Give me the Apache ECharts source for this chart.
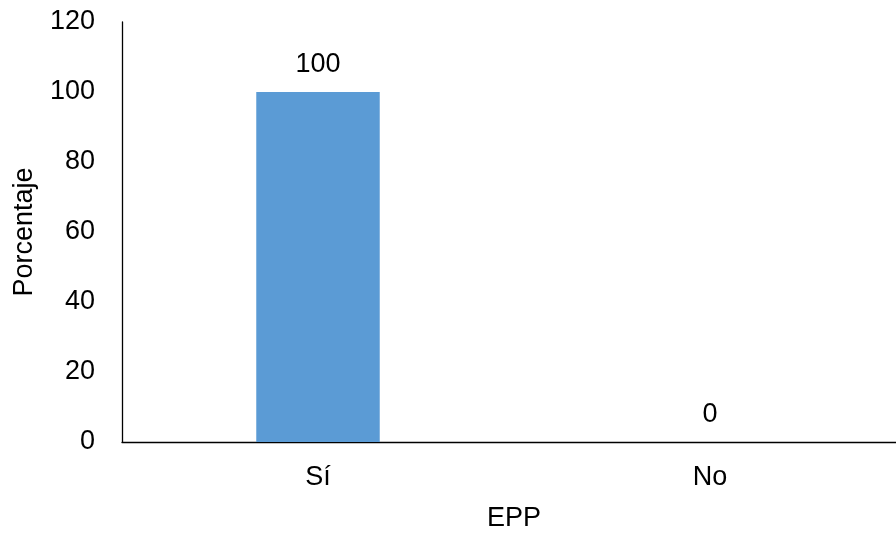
<!DOCTYPE html>
<html><head><meta charset="utf-8">
<script src="https://cdn.jsdelivr.net/npm/echarts@6/dist/echarts.min.js"></script>
<style>html,body{margin:0;padding:0;background:#fff;overflow:hidden}#c{width:906px;height:537px}</style>
</head><body><div id="c"></div>
<script>
const categories = ['Sí', 'No'];
const values = [100, 0];
const yTicks = [0, 20, 40, 60, 80, 100, 120];

const chart = echarts.init(document.getElementById('c'), null, {renderer: 'canvas'});
const font = 'Liberation Sans, Arial, sans-serif';
const fs = 27;
chart.setOption({
  animation: false,
  grid: {left: 122, right: 0, top: 22, bottom: 95, containLabel: false},
  xAxis: {
    type: 'category', data: categories,
    name: 'EPP', nameLocation: 'middle', nameGap: 63,
    nameTextStyle: {fontFamily: font, fontSize: fs, color: '#000'},
    axisLine: {lineStyle: {color: '#000', width: 1.3}},
    axisTick: {show: false},
    axisLabel: {fontFamily: font, fontSize: fs, color: '#000', margin: 22}
  },
  yAxis: {
    type: 'value', min: yTicks[0], max: yTicks[yTicks.length - 1], interval: yTicks[1] - yTicks[0],
    name: 'Porcentaje', nameLocation: 'middle', nameGap: 84,
    nameTextStyle: {fontFamily: font, fontSize: fs, color: '#000'},
    axisLine: {show: true, lineStyle: {color: '#000', width: 1.3}},
    axisTick: {show: false},
    splitLine: {show: false},
    axisLabel: {fontFamily: font, fontSize: fs, color: '#000', margin: 27}
  },
  series: [{
    type: 'bar', data: values, barWidth: '31.5%',
    itemStyle: {color: '#5B9BD5'},
    label: {show: true, position: 'top', distance: 14, fontFamily: font, fontSize: fs, color: '#000'}
  }]
});
</script></body></html>
